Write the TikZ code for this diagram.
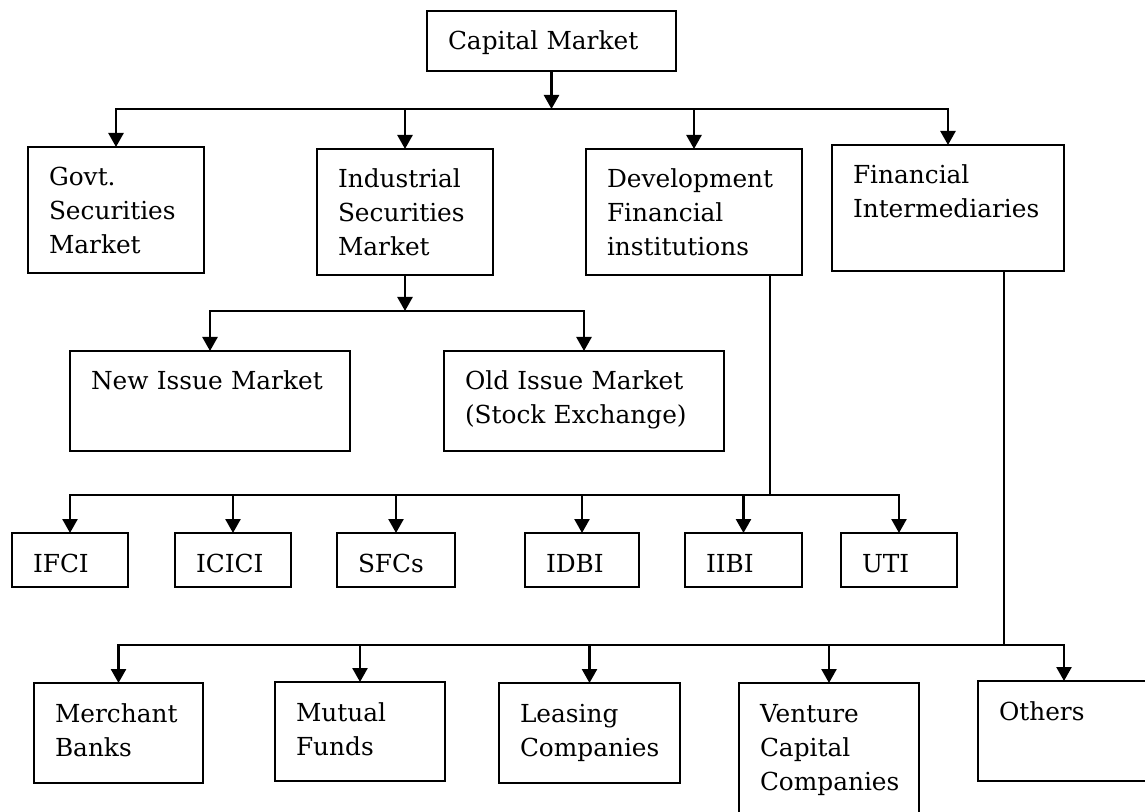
\documentclass[tikz,border=0pt]{standalone}
\usepackage{fontspec}
\setmainfont{DejaVu Serif}
\usetikzlibrary{arrows.meta}

\begin{document}
\begin{tikzpicture}[x=0.5pt,y=-0.5pt,line width=1.25pt,>={Triangle[width=7.5pt,length=7pt]},
  main node/.style={draw,anchor=north west,align=left,outer sep=0pt,inner xsep=10.5pt,inner ysep=0pt,text height=19.5pt,font=\fontsize{12.4}{17}\selectfont},
  down edge/.style={to path={-| (\tikztotarget)}}]
 \useasboundingbox (0,0) rectangle (1145,812);
 % top level
 \node[main node,text width=103.5pt,text depth=10.5pt] (1) at (427,11) {Capital Market};
 \node[main node,text width=67pt,text depth=43.5pt] (2) at (28,147) {Govt.\\Securities\\Market};
 \node[main node,text width=67pt,text depth=43.5pt] (3) at (317,149) {Industrial\\Securities\\Market};
 \node[main node,text width=87pt,text depth=43.5pt] (4) at (586,149) {Development\\Financial\\institutions};
 \node[main node,text width=95pt,text depth=43.5pt] (5) at (832,145) {Financial\\Intermediaries};
 % markets
 \node[main node,text width=119pt,text depth=30.5pt] (6) at (70,351) {New Issue Market};
 \node[main node,text width=119pt,text depth=30.5pt] (7) at (444,351) {Old Issue Market\\(Stock Exchange)};
 % institutions
 \node[main node,text width=37pt,text depth=7.5pt] (8) at (12,533) {IFCI};
 \node[main node,text width=37pt,text depth=7.5pt] (9) at (175,533) {ICICI};
 \node[main node,text width=38pt,text depth=7.5pt] (10) at (337,533) {SFCs};
 \node[main node,text width=36pt,text depth=7.5pt] (11) at (525,533) {IDBI};
 \node[main node,text width=37.5pt,text depth=7.5pt] (12) at (685,533) {IIBI};
 \node[main node,text width=37pt,text depth=7.5pt] (13) at (841,533) {UTI};
 % intermediaries
 \node[main node,text width=63.5pt,text depth=30.5pt] (14) at (34,683) {Merchant\\Banks};
 \node[main node,text width=64pt,text depth=30pt] (15) at (275,682) {Mutual\\Funds};
 \node[main node,text width=69.5pt,text depth=30.5pt] (16) at (499,683) {Leasing\\Companies};
 \node[main node,text width=69pt,text depth=65.5pt] (17) at (739,683) {Venture\\Capital\\Companies};
 \node[main node,text width=65pt,text depth=30.5pt] (18) at (978,681) {Others};

 \coordinate (b1) at (551.5,109);
 \coordinate (b2) at (405,311);
 \coordinate (b3) at (770,495);
 \coordinate (b4) at (1004,645);

 \path[->]
 (1) edge (b1)
 (b1) edge[down edge] (2)
 (b1) edge[down edge] (3)
 (b1) edge[down edge] (4)
 (b1) edge[down edge] (5)
 (3) edge (b2)
 (b2) edge[down edge] (6)
 (b2) edge[down edge] (7)
 (b3) edge[down edge] (8)
 (b3) edge[down edge] (9)
 (b3) edge[down edge] (10)
 (b3) edge[down edge] (11)
 (b3) edge[down edge] (12)
 (b3) edge[down edge] (13)
 (b4) edge[down edge] (14)
 (b4) edge[down edge] (15)
 (b4) edge[down edge] (16)
 (b4) edge[down edge] (17)
 (b4) edge[down edge] (18)
 ;
 \draw (4.south -| b3) -- (b3);
 \draw (5.south -| b4) -- (b4);
\end{tikzpicture}
\end{document}
